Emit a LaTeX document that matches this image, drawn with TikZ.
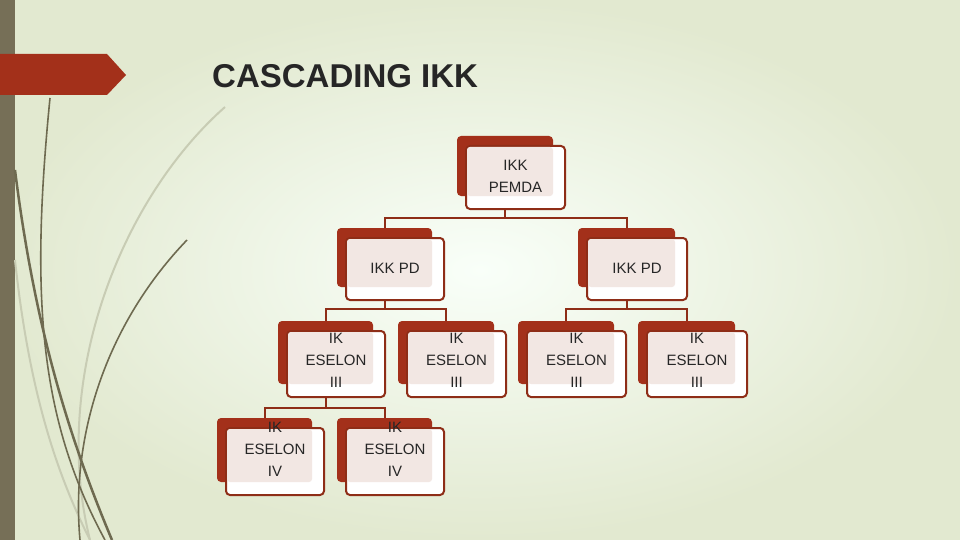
\documentclass[tikz,border=0pt]{standalone}
\usepackage{fontspec}
\setmainfont{Liberation Sans}
\usetikzlibrary{backgrounds}
\definecolor{boxred}{HTML}{A3301A}
\definecolor{linered}{HTML}{8E2D17}
\definecolor{pinkf}{HTML}{F2E7E3}
\definecolor{olive}{HTML}{6E6A50}
\definecolor{lolive}{HTML}{C8CCB4}
\definecolor{stripe}{HTML}{766F57}
\pgfdeclarelayer{bg}
\pgfsetlayers{bg,background,main}
\tikzset{
 redbox/.style={fill=boxred,rounded corners=4pt,inner sep=0pt},
 whitebox/.style={fill=white,draw=linered,line width=2pt,rounded corners=4pt,inner sep=0pt},
 txt/.style={font=\fontsize{15}{22}\selectfont,align=center,text=black!85,inner sep=0pt},
 conn/.style={draw=linered,line width=2pt}
}
\newcommand\ikkbox[7]{%
 \node[redbox,minimum width={#4-#2},minimum height={#5-#3}] (#1-r) at ({(#2+#4)/2},{(#3+#5)/2}) {};
 \node[whitebox,minimum width={#4-#2+3},minimum height={#5-#3+3}] (#1-w) at ({(#2+#4)/2+10.5},{(#3+#5)/2+11.5}) {};
 \fill[pinkf,rounded corners=3pt] ({#2+10},{#3+11}) rectangle (#4,#5);
 \node[txt] (#1-t) at ({(#2+#4)/2+10.5},{(#3+#5)/2+11.5+#6}) {#7};
}
\begin{document}
\begin{tikzpicture}[x=1pt,y=-1pt]
\useasboundingbox (0,0) rectangle (960,540);
\begin{pgfonlayer}{bg}
\shade[inner color=white!70!green!8!white, outer color={rgb,255:red,226;green,233;blue,208}] (0,0) rectangle (960,540);
\fill[stripe] (0,0) rectangle (15,540);
\draw[lolive,line width=2pt] (225,107) .. controls (120,200) and (50,380) .. (90,540);
\draw[lolive,line width=2pt] (15,260) .. controls (30,400) and (60,480) .. (90,540);
\draw[olive,line width=1.6pt] (50,98) .. controls (30,300) and (40,420) .. (105,540);
\draw[olive,line width=2.5pt] (15,170) .. controls (35,330) and (70,440) .. (112,540);
\draw[olive,line width=1.6pt] (187,240) .. controls (110,320) and (70,430) .. (80,540);
\fill[boxred] (0,54) -- (107,54) -- (126,75) -- (107,95) -- (0,95) -- cycle;
\end{pgfonlayer}
\node[anchor=base west,font=\bfseries\fontsize{33}{36}\selectfont,text=black!85,inner sep=0pt] (title) at (212,88) {CASCADING IKK};

\ikkbox{top}{457}{136}{553}{196}{-1}{IKK\\PEMDA}
\ikkbox{pdl}{337}{228}{432}{287}{-1}{IKK PD}
\ikkbox{pdr}{578}{228}{675}{287}{-1}{IKK PD}
\ikkbox{e1}{278}{321}{373}{384}{-4}{IK\\ESELON\\III}
\ikkbox{e2}{398}{321}{494}{384}{-4}{IK\\ESELON\\III}
\ikkbox{e3}{518}{321}{614}{384}{-4}{IK\\ESELON\\III}
\ikkbox{e4}{638}{321}{735}{384}{-4}{IK\\ESELON\\III}
\ikkbox{f1}{217}{418}{312}{482}{-12}{IK\\ESELON\\IV}
\ikkbox{f2}{337}{418}{432}{482}{-12}{IK\\ESELON\\IV}

\coordinate (j1) at (505,218);
\coordinate (j2) at (384.5,309);
\coordinate (j3) at (626.5,309);
\coordinate (j4) at (325.5,407.5);
\begin{pgfonlayer}{background}
\draw[conn] (top-r.center) -- (j1);
\draw[conn] (pdl-r.north) |- (j1);
\draw[conn] (pdr-r.north) |- (j1);
\draw[conn] (pdl-r.center) -- (j2);
\draw[conn] (e1-r.north) |- (j2);
\draw[conn] (e2-r.north) |- (j2);
\draw[conn] (pdr-r.center) -- (j3);
\draw[conn] (e3-r.north) |- (j3);
\draw[conn] (e4-r.north) |- (j3);
\draw[conn] (e1-r.center) -- (j4);
\draw[conn] (f1-r.north) |- (j4);
\draw[conn] (f2-r.north) |- (j4);
\end{pgfonlayer}
\end{tikzpicture}
\end{document}
